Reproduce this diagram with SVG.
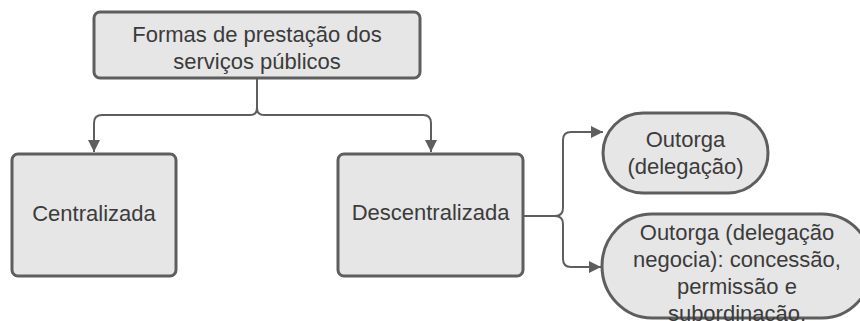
<svg xmlns="http://www.w3.org/2000/svg" width="860" height="321" viewBox="0 0 860 321">
<defs>
<style>
.box{fill:#e6e6e6;stroke:#5e5e5e;stroke-width:3}
.t{font-family:"Liberation Sans",Arial,sans-serif;font-size:22px;fill:#3b3b3b;text-anchor:middle}
.c{fill:none;stroke:#5e5e5e;stroke-width:2}
</style>
<marker id="ah" markerWidth="12" markerHeight="12" refX="12" refY="6" orient="auto" markerUnits="userSpaceOnUse">
<path d="M0,0 L12,6 L0,12 Z" fill="#5e5e5e"/>
</marker>
</defs>
<rect width="860" height="321" fill="#ffffff"/>
<g id="connectors">
<path class="c" d="M257,78 V108 Q257,115 250,115 H102 Q94,115 94,123 V152" marker-end="url(#ah)"/>
<path class="c" d="M257,78 V108 Q257,115 264,115 H423 Q431,115 431,123 V152" marker-end="url(#ah)"/>
<path class="c" d="M523,216 H555 Q563,216 563,208 V140 Q563,132 571,132 H603" marker-end="url(#ah)"/>
<path class="c" d="M523,216 H555 Q563,216 563,224 V259 Q563,267 571,267 H601" marker-end="url(#ah)"/>
</g>
<g id="n-formas">
<rect class="box" x="94" y="12" width="326" height="66" rx="6"/>
<text class="t" x="257" y="42">Formas de prestação dos</text>
<text class="t" x="257" y="69">serviços públicos</text>
</g>
<g id="n-centralizada">
<rect class="box" x="12" y="154" width="164" height="122" rx="6"/>
<text class="t" x="94" y="221">Centralizada</text>
</g>
<g id="n-descentralizada">
<rect class="box" x="338" y="154" width="185" height="122" rx="6"/>
<text class="t" x="430.5" y="220">Descentralizada</text>
</g>
<g id="n-outorga">
<rect class="box" x="603" y="113" width="165" height="80" rx="40"/>
<text class="t" x="685.5" y="147">Outorga</text>
<text class="t" x="685.5" y="174">(delegação)</text>
</g>
<g id="n-outorga2">
<rect class="box" x="602" y="214" width="270" height="104" rx="50" ry="52"/>
<text class="t" x="737" y="240">Outorga (delegação</text>
<text class="t" x="737" y="267">negocia): concessão,</text>
<text class="t" x="737" y="294">permissão e</text>
<text class="t" x="737" y="321">subordinação.</text>
</g>
</svg>
